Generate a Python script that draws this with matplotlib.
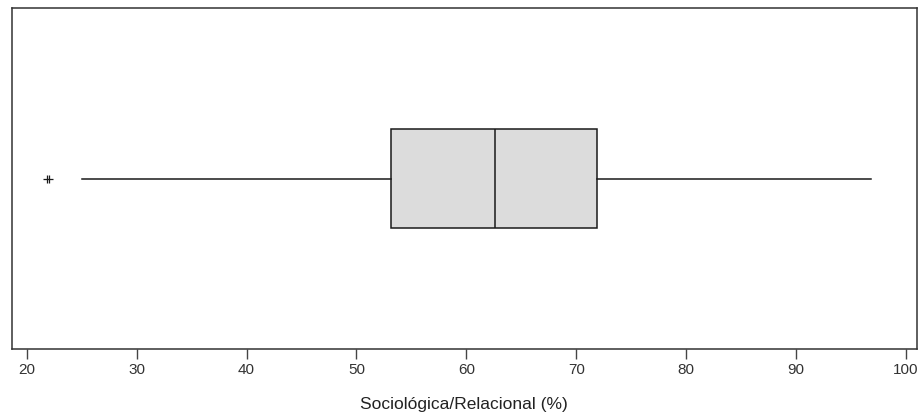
import matplotlib.pyplot as plt
from matplotlib.path import Path

# box plot summary
category = "Sociológica/Relacional (%)"
q1 = 53.15
median = 62.63
q3 = 71.87
whisker_low = 25.0
whisker_high = 96.82
outliers = [21.96]
ticks = [20, 30, 40, 50, 60, 70, 80, 90, 100]

plt.rcParams['font.family'] = ['Liberation Sans', 'DejaVu Sans']

# outlier glyph: a dash crossed by two short strokes
star = Path([(-1, 0), (1, 0), (-0.3, -0.8), (-0.3, 0.8), (0.3, -0.8), (0.3, 0.8)],
            [Path.MOVETO, Path.LINETO, Path.MOVETO, Path.LINETO, Path.MOVETO, Path.LINETO])

fig = plt.figure(figsize=(9.2, 4.18), dpi=100)
ax = fig.add_axes([0.013, 0.164, 0.9834, 0.817])

stats = [{
    'med': median, 'q1': q1, 'q3': q3,
    'whislo': whisker_low, 'whishi': whisker_high,
    'fliers': outliers, 'label': category,
}]
ax.bxp(stats, vert=False, widths=0.29, patch_artist=True, showcaps=False,
       boxprops=dict(facecolor='#dcdcdc', edgecolor='#1a1a1a', linewidth=1.1),
       medianprops=dict(color='#1a1a1a', linewidth=1.1),
       whiskerprops=dict(color='#1a1a1a', linewidth=1.1),
       flierprops=dict(marker=star, markersize=7, markeredgecolor='#1a1a1a',
                       markerfacecolor='none', markeredgewidth=0.9, linestyle='none'))

ax.set_xlim(18.66, 100.97)
ax.set_ylim(0.5, 1.5)
ax.set_yticks([])
ax.set_xticks(ticks)
ax.tick_params(axis='x', length=7, width=1, color='#444444', labelsize=11,
               labelcolor='#333333', pad=3)
for s in ax.spines.values():
    s.set_color('#333333')
    s.set_linewidth(1.1)
ax.set_xlabel(category, fontsize=12.5, color='#222222', labelpad=14)

fig.savefig('out.png', dpi=100)
